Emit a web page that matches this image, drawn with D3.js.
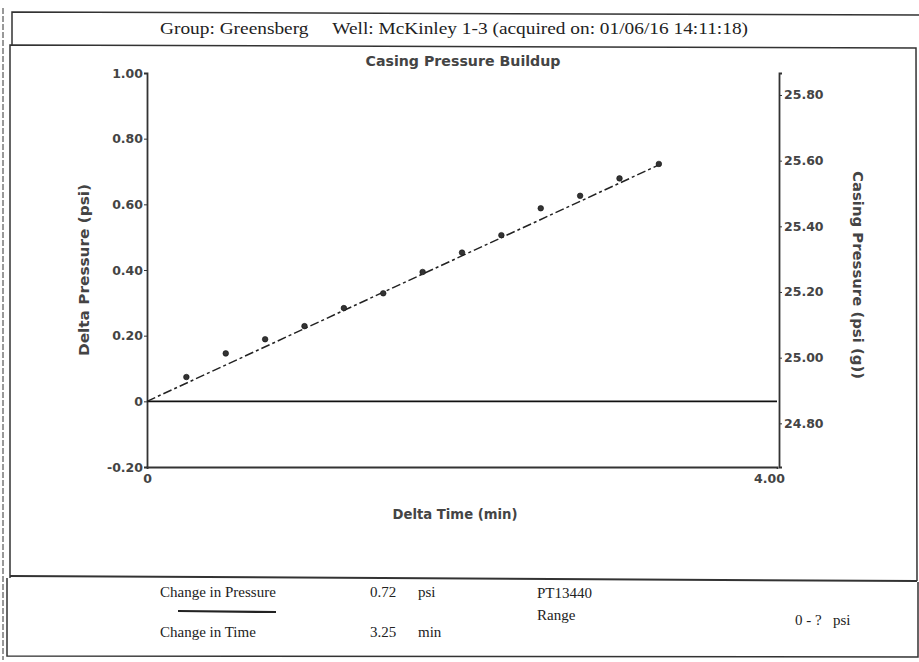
<!DOCTYPE html>
<html>
<head>
<meta charset="utf-8">
<script src="https://cdn.jsdelivr.net/npm/d3@7/dist/d3.min.js"></script>
<style>
  html, body { margin: 0; padding: 0; background: #fff; }
  svg { display: block; }
  .serif { font-family: "Liberation Serif", "DejaVu Serif", serif; fill: #222; }
  .bold { font-family: "DejaVu Sans", "Liberation Sans", sans-serif; font-weight: bold; fill: #444; }
</style>
</head>
<body>
<svg id="chart" width="919" height="662"></svg>
<script>
// ---- data ----
const times = [0.25, 0.5, 0.75, 1.0, 1.25, 1.5, 1.75, 2.0, 2.25, 2.5, 2.75, 3.0, 3.25];
const deltaPressure = [0.074, 0.146, 0.189, 0.229, 0.284, 0.329, 0.394, 0.453, 0.506, 0.588, 0.626, 0.679, 0.723];
const fitTimes = [0, 3.25];
const fitValues = [0, 0.72];
const leftTicks = [-0.2, 0, 0.2, 0.4, 0.6, 0.8, 1.0];
const rightTicks = [24.8, 25.0, 25.2, 25.4, 25.6, 25.8];
const xTicks = [0, 4];
const basePressure = 24.867;
const headerText = "Group: Greensberg     Well: McKinley 1-3 (acquired on: 01/06/16 14:11:18)";
const chartTitle = "Casing Pressure Buildup";
const summaryLabels = ["Change in Pressure", "Change in Time"];
const summaryValues = ["0.72", "3.25"];
const summaryUnits = ["psi", "min"];
const sensorName = "PT13440";
const rangeLabel = "Range";
const rangeValue = "0 - ?   psi";

// ---- layout ----
const svg = d3.select("#chart");
const x = d3.scaleLinear().domain([0, 4]).range([147, 777]);
const yL = d3.scaleLinear().domain([-0.2, 1.0]).range([467, 73]);
const yR = d3.scaleLinear().domain([basePressure - 0.2, basePressure + 1.0]).range([467, 73]);

const stroke = "#333";
const fmt = d => d === 0 ? "0" : d3.format(".2f")(d).replace("\u2212", "-");

// frames
const frame = svg.append("g").attr("fill", "none").attr("stroke", stroke);
frame.append("line").attr("x1", 3).attr("y1", 8).attr("x2", 3).attr("y2", 660)
  .attr("stroke-width", 1).attr("stroke-dasharray", "6,2");
frame.append("path").attr("d", "M12,46 L12,12 L919,15").attr("stroke-width", 1.5);
frame.append("path").attr("d", "M10,578 L10,45 L916,48 L917,581").attr("stroke-width", 1.5);
frame.append("path").attr("d", "M10,576 L917,581").attr("stroke-width", 2);
frame.append("path").attr("d", "M7,578 L7,656 L918,657 L918,582").attr("stroke-width", 1.5);

// header
svg.append("text").attr("class", "serif").attr("x", 160).attr("y", 34)
  .attr("font-size", 16).attr("textLength", 588).attr("lengthAdjust", "spacingAndGlyphs")
  .attr("xml:space", "preserve").text(headerText);

// title
svg.append("text").attr("class", "bold").attr("x", 463).attr("y", 66)
  .attr("text-anchor", "middle").attr("font-size", 14)
  .attr("textLength", 195).attr("lengthAdjust", "spacingAndGlyphs").text(chartTitle);

// axes
const leftAxis = d3.axisLeft(yL).tickValues(leftTicks).tickSize(3).tickFormat(fmt);
const gL = svg.append("g").attr("transform", "translate(147,0)").call(leftAxis);
const rightAxis = d3.axisRight(yR).tickValues(rightTicks).tickSize(3).tickFormat(fmt);
const gR = svg.append("g").attr("transform", "translate(779,0)").call(rightAxis);
const bottomAxis = d3.axisBottom(x).tickValues(xTicks).tickSize(2).tickFormat(fmt);
const gB = svg.append("g").attr("transform", "translate(0,467)").call(bottomAxis);

[gL, gR, gB].forEach(g => {
  g.select(".domain").attr("stroke", stroke).attr("stroke-width", 1.8);
  g.selectAll(".tick line").attr("stroke", stroke);
  g.selectAll(".tick text").attr("class", "bold").attr("font-size", 12.5)
    .attr("fill", "#444").style("font-family", "DejaVu Sans, Liberation Sans, sans-serif").style("font-weight", "bold");
});
gL.selectAll(".tick text").attr("x", -4);
gR.selectAll(".tick text").attr("x", 5);
gB.selectAll(".tick text").attr("dy", "0.9em");
gB.selectAll(".tick").filter(d => d === 4).select("text").attr("dx", -8);

// zero line
svg.append("line").attr("x1", x(0)).attr("x2", x(4)).attr("y1", yL(0)).attr("y2", yL(0))
  .attr("stroke", "#111").attr("stroke-width", 1.8);

// axis labels
svg.append("text").attr("class", "bold").attr("font-size", 14)
  .attr("text-anchor", "middle").attr("x", 455).attr("y", 519)
  .attr("textLength", 125).attr("lengthAdjust", "spacingAndGlyphs").text("Delta Time (min)");
svg.append("text").attr("class", "bold").attr("font-size", 14)
  .attr("text-anchor", "middle").attr("transform", "translate(89,270) rotate(-90)")
  .attr("textLength", 172).attr("lengthAdjust", "spacingAndGlyphs").text("Delta Pressure (psi)");
svg.append("text").attr("class", "bold").attr("font-size", 14)
  .attr("text-anchor", "middle").attr("transform", "translate(853,275) rotate(90)")
  .attr("textLength", 208).attr("lengthAdjust", "spacingAndGlyphs").text("Casing Pressure (psi (g))");

// fit line
const line = d3.line().x(d => x(d[0])).y(d => yL(d[1]));
svg.append("path").datum(fitTimes.map((t, i) => [t, fitValues[i]]))
  .attr("d", line).attr("fill", "none").attr("stroke", "#222").attr("stroke-width", 1.5)
  .attr("stroke-dasharray", "9,3,3,3");

// points
svg.append("g").selectAll("circle").data(times.map((t, i) => [t, deltaPressure[i]]))
  .join("circle").attr("cx", d => x(d[0])).attr("cy", d => yL(d[1])).attr("r", 2.8)
  .attr("fill", "#333").attr("stroke", "#111").attr("stroke-width", 0.6);

// summary
const fs = 15;
summaryLabels.forEach((lab, i) => {
  const yy = i === 0 ? 597 : 637;
  svg.append("text").attr("class", "serif").attr("font-size", fs).attr("x", 160).attr("y", yy).text(lab);
  svg.append("text").attr("class", "serif").attr("font-size", fs).attr("x", 370).attr("y", yy).text(summaryValues[i]);
  svg.append("text").attr("class", "serif").attr("font-size", fs).attr("x", 418).attr("y", yy).text(summaryUnits[i]);
});
svg.append("line").attr("x1", 178).attr("x2", 276).attr("y1", 611).attr("y2", 612)
  .attr("stroke", "#222").attr("stroke-width", 2.2);
svg.append("text").attr("class", "serif").attr("font-size", fs).attr("x", 537).attr("y", 598).text(sensorName);
svg.append("text").attr("class", "serif").attr("font-size", fs).attr("x", 537).attr("y", 620).text(rangeLabel);
svg.append("text").attr("class", "serif").attr("font-size", fs).attr("x", 795).attr("y", 625)
  .attr("xml:space", "preserve").text(rangeValue);
</script>
</body>
</html>
